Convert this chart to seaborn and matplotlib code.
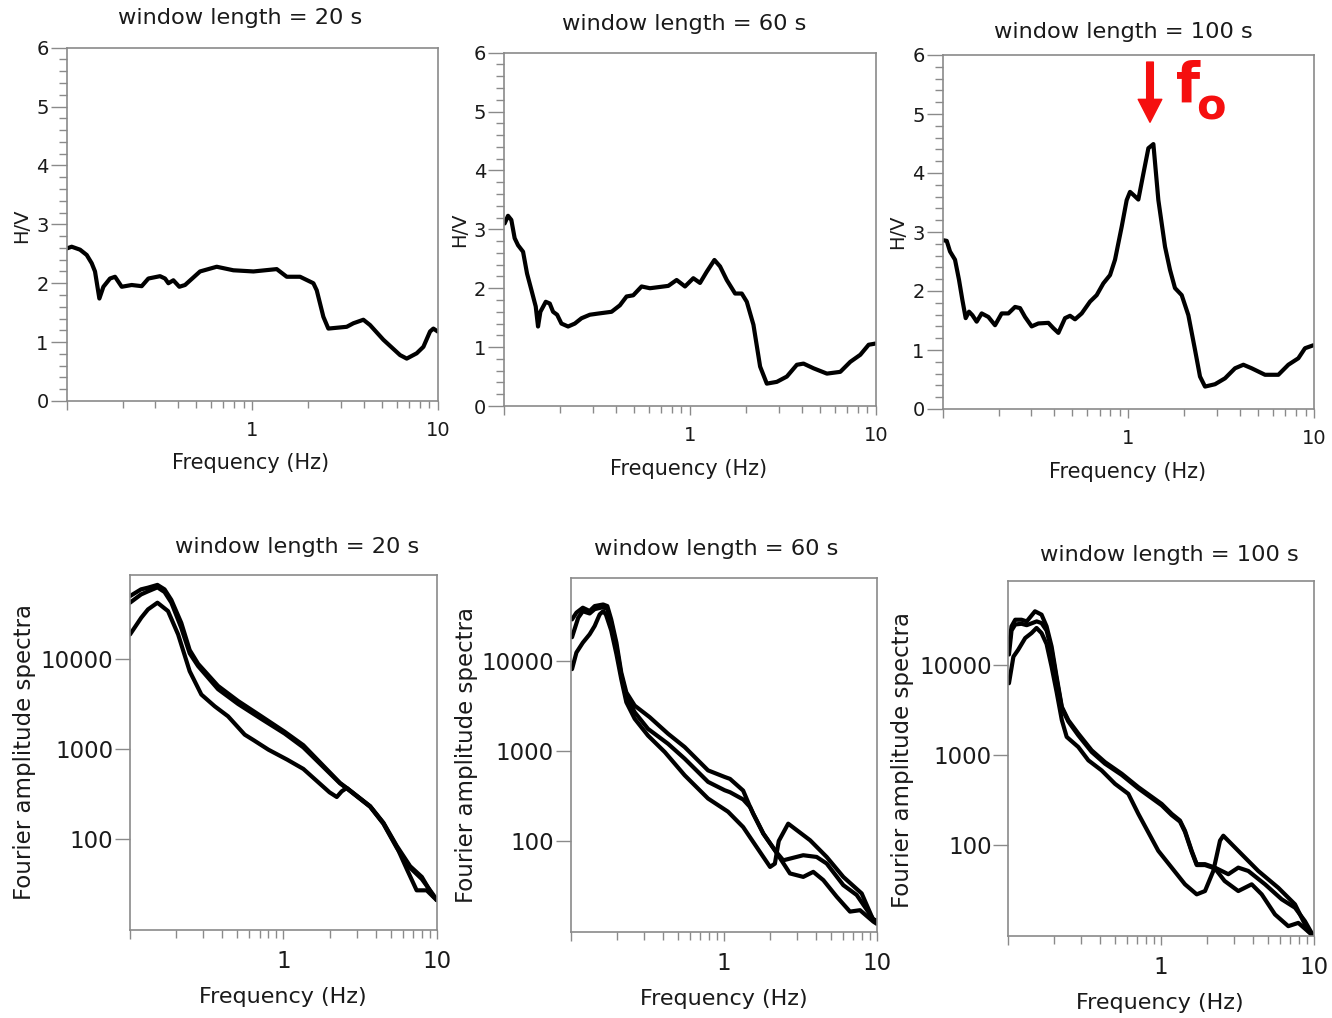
import numpy as np
import pandas as pd
import matplotlib
matplotlib.use('Agg')
import matplotlib.pyplot as plt
from matplotlib.ticker import FixedLocator, NullFormatter, LogLocator
import seaborn as sns

# ---------------- H/V curves (top row) ----------------
hv20_freq = [0.100, 0.1064, 0.118, 0.1282, 0.1364, 0.1421, 0.150, 0.1577, 0.1712, 0.1822,
             0.198, 0.2241, 0.2537, 0.2756, 0.3185, 0.3389, 0.3533, 0.3758, 0.4048, 0.4344,
             0.5234, 0.6437, 0.7915, 1.015, 1.356, 1.535, 1.811, 2.137, 2.228, 2.419,
             2.573, 3.232, 3.511, 3.975, 4.317, 5.095, 6.266, 6.808, 7.705, 8.373,
             9.094, 9.476, 10.0]
hv20_ratio = [2.59, 2.62, 2.57, 2.48, 2.34, 2.20, 1.74, 1.94, 2.08, 2.11,
              1.94, 1.97, 1.95, 2.08, 2.12, 2.08, 2.00, 2.05, 1.94, 1.97,
              2.20, 2.28, 2.22, 2.20, 2.24, 2.11, 2.11, 2.00, 1.88, 1.43,
              1.23, 1.26, 1.32, 1.38, 1.29, 1.04, 0.78, 0.72, 0.81, 0.92,
              1.18, 1.23, 1.18]

hv60_freq = [0.1008, 0.1051, 0.1095, 0.1141, 0.119, 0.1266, 0.133, 0.1404, 0.1481, 0.1524,
             0.1569, 0.1677, 0.1762, 0.1836, 0.193, 0.2036, 0.2211, 0.2403, 0.261, 0.2894,
             0.3209, 0.3786, 0.4198, 0.456, 0.4953, 0.5492, 0.609, 0.7643, 0.8475, 0.94,
             1.042, 1.132, 1.23, 1.353, 1.451, 1.576, 1.748, 1.898, 2.02, 2.193,
             2.382, 2.588, 2.93, 3.316, 3.754, 4.077, 4.616, 5.446, 6.427, 7.275,
             8.235, 9.131, 9.917]
hv60_ratio = [3.10, 3.23, 3.16, 2.85, 2.73, 2.62, 2.25, 1.97, 1.69, 1.35,
              1.60, 1.77, 1.74, 1.60, 1.55, 1.40, 1.35, 1.40, 1.49, 1.55,
              1.57, 1.60, 1.71, 1.86, 1.88, 2.03, 2.00, 2.04, 2.14, 2.03,
              2.17, 2.09, 2.28, 2.48, 2.37, 2.14, 1.91, 1.91, 1.77, 1.38,
              0.67, 0.38, 0.41, 0.50, 0.70, 0.72, 0.64, 0.55, 0.58, 0.75,
              0.87, 1.04, 1.06]

hv100_freq = [0.1008, 0.1051, 0.1095, 0.1165, 0.1224, 0.1276, 0.133, 0.1386, 0.1445, 0.1524,
              0.1622, 0.1762, 0.1914, 0.2078, 0.2258, 0.2453, 0.261, 0.2777, 0.3015, 0.3276,
              0.3708, 0.3945, 0.4198, 0.456, 0.4852, 0.5161, 0.5607, 0.6217, 0.6752, 0.7335,
              0.7968, 0.8475, 0.9208, 0.9795, 1.021, 1.064, 1.132, 1.205, 1.282, 1.364,
              1.451, 1.576, 1.676, 1.783, 1.938, 2.105, 2.287, 2.432, 2.588, 2.93,
              3.316, 3.754, 4.164, 4.616, 5.446, 6.427, 7.275, 8.235, 8.944, 9.917]
hv100_ratio = [2.86, 2.85, 2.67, 2.53, 2.19, 1.85, 1.54, 1.65, 1.59, 1.48,
               1.62, 1.56, 1.42, 1.62, 1.62, 1.73, 1.71, 1.56, 1.40, 1.45,
               1.46, 1.37, 1.29, 1.54, 1.58, 1.52, 1.62, 1.82, 1.93, 2.13,
               2.27, 2.53, 3.09, 3.54, 3.68, 3.63, 3.55, 3.99, 4.42, 4.49,
               3.54, 2.75, 2.36, 2.05, 1.93, 1.59, 1.00, 0.55, 0.38, 0.42,
               0.52, 0.69, 0.75, 0.69, 0.58, 0.58, 0.75, 0.86, 1.03, 1.08]

# ---------------- Fourier amplitude spectra (bottom row) ----------------
# window = 20 s
fas20_a_freq = [0.100, 0.118, 0.131, 0.151, 0.168, 0.186, 0.216, 0.245, 0.278, 0.375,
                0.507, 0.719, 1.02, 1.35, 2.34, 2.59, 3.68, 4.49, 5.49, 6.71,
                8.0, 9.52, 10.0]
fas20_a_amp = [49600, 58900, 61500, 66000, 58900, 45000, 25000, 12500, 8800, 5000,
               3400, 2300, 1550, 1100, 420, 369, 232, 152, 84, 50,
               38, 23, 22]
fas20_b_freq = fas20_a_freq
fas20_b_amp = [41900, 51700, 56000, 62000, 55000, 42000, 22000, 11500, 8300, 4600,
               3150, 2150, 1480, 1040, 415, 365, 228, 148, 80, 48,
               36, 24, 21]
fas20_c_freq = [0.100, 0.1185, 0.131, 0.151, 0.177, 0.206, 0.245, 0.292, 0.357, 0.436,
                0.56, 0.64, 0.80, 1.06, 1.35, 2.0, 2.23, 2.40, 2.59, 3.68,
                4.49, 5.49, 6.4, 7.4, 8.6, 10.0]
fas20_c_amp = [18600, 28600, 35300, 41900, 33800, 18600, 7280, 4010, 2970, 2300,
               1440, 1250, 980, 760, 600, 330, 293, 338, 369, 230,
               150, 82, 46, 27, 27, 21]

# window = 60 s
fas60_a_freq = [0.102, 0.109, 0.120, 0.133, 0.1435, 0.163, 0.1735, 0.184, 0.199, 0.214,
                0.231, 0.262, 0.328, 0.433, 0.556, 0.79, 1.015, 1.10, 1.34, 1.49,
                1.56, 1.815, 2.16, 2.45, 3.31, 4.05, 4.71, 6.05, 7.4, 9.5, 10.0]
fas60_a_amp = [29200, 34700, 39400, 36200, 41100, 42800, 41100, 29200, 16100, 7510,
               4510, 3210, 2390, 1560, 1110, 611, 516, 491, 364, 238,
               201, 121, 79, 61, 69.5, 66.5, 56.2, 32.3, 25.1, 13.5, 13]
fas60_b_freq = [0.102, 0.112, 0.120, 0.133, 0.1435, 0.163, 0.1735, 0.184, 0.199, 0.214,
                0.231, 0.262, 0.320, 0.4325, 0.556, 0.79, 1.015, 1.10, 1.34, 1.49,
                1.56, 1.815, 2.16, 2.71, 3.31, 3.85, 4.48, 5.48, 6.69, 7.78, 9.5, 10.0]
fas60_b_amp = [18500, 30500, 36000, 34000, 38000, 40000, 38000, 27000, 14500, 7000,
               4140, 2710, 1770, 1208, 824, 455, 367, 349, 290, 238,
               201, 121, 79, 43.6, 39.9, 45.4, 36.7, 24, 16.4, 17, 12.7, 12]
fas60_c_freq = [0.102, 0.109, 0.120, 0.133, 0.1435, 0.1547, 0.163, 0.17, 0.184, 0.199,
                0.214, 0.231, 0.262, 0.320, 0.412, 0.556, 0.79, 1.067, 1.34, 1.64,
                2.01, 2.16, 2.29, 2.64, 3.67, 4.71, 6.05, 7.98, 9.5, 10.0]
fas60_c_amp = [8170, 12500, 16100, 19950, 24700, 33200, 36000, 33000, 22000, 12000,
               6340, 3500, 2290, 1490, 977, 538, 297, 212, 143, 85.9,
               51.5, 56, 100, 156, 102, 66.5, 39.9, 26.1, 13.2, 12.5]

# window = 100 s
fas100_a_freq = [0.101, 0.105, 0.111, 0.122, 0.132, 0.1495, 0.165, 0.178, 0.192, 0.207,
                 0.224, 0.247, 0.287, 0.351, 0.429, 0.552, 0.709, 1.008, 1.172, 1.328,
                 1.432, 1.585, 1.709, 1.936, 2.25, 2.75, 3.196, 3.717, 4.78, 6.15,
                 7.51, 8.73, 9.9]
fas100_a_amp = [15950, 26700, 31600, 31600, 30300, 39200, 36000, 26700, 15950, 7380,
                3420, 2430, 1726, 1125, 833, 619, 439, 286, 222, 187,
                144, 86, 61.4, 61.4, 56.2, 47.5, 56.2, 51.6, 36.7, 25,
                20.2, 14.3, 9.8]
fas100_b_freq = [0.101, 0.105, 0.111, 0.122, 0.132, 0.1534, 0.165, 0.178, 0.192, 0.207,
                 0.224, 0.247, 0.287, 0.351, 0.429, 0.552, 0.709, 1.008, 1.172, 1.328,
                 1.432, 1.585, 1.709, 1.936, 2.25, 2.6, 3.196, 3.912, 4.549, 5.556,
                 6.79, 7.894, 9.9]
fas100_b_amp = [13000, 24000, 28000, 28500, 27500, 30300, 29000, 24000, 14500, 6900,
                3300, 2350, 1650, 1080, 800, 600, 425, 276, 215, 182,
                140, 84, 60, 60, 55, 40, 30.9, 36.7, 28.4, 17.0,
                12.6, 13.7, 9.8]
fas100_c_freq = [0.101, 0.108, 0.116, 0.129, 0.142, 0.153, 0.165, 0.178, 0.192, 0.207,
                 0.224, 0.241, 0.287, 0.334, 0.408, 0.499, 0.61, 0.709, 0.958, 1.172,
                 1.432, 1.709, 1.936, 2.194, 2.427, 2.551, 3.196, 4.321, 5.84, 7.51,
                 9.18, 9.9]
fas100_c_amp = [6240, 12300, 14650, 19800, 22500, 25600, 22500, 17000, 9500, 5000,
                2430, 1585, 1224, 871, 673, 478, 370, 222, 86.3, 56.2,
                36.7, 28.4, 30.9, 51.6, 112, 127, 86.3, 51.6, 33.6, 22,
                11.1, 9.8]

titles = ['window length = 20 s', 'window length = 60 s', 'window length = 100 s']

sns.set_style('white')
plt.rcParams['font.family'] = ['DejaVu Sans']

W, H = 1332, 1018
fig = plt.figure(figsize=(W / 100, H / 100), dpi=100)


def add_ax(l, t, r, b):
    return fig.add_axes([l / W, 1 - b / H, (r - l) / W, (b - t) / H])


def ftext(x, y, s, **kw):
    fig.text(x / W, 1 - y / H, s, **kw)


SPINE = '#8a8a8a'
TXT = '#1a1a1a'


def style_axes(ax, top_row):
    ax.set_xscale('log')
    ax.set_xlim(0.1, 10)
    ax.xaxis.set_major_locator(FixedLocator([0.1, 1, 10]))
    ax.set_xticklabels(['', '1', '10'])
    ax.xaxis.set_minor_locator(LogLocator(base=10, subs=np.arange(2, 10)))
    ax.xaxis.set_minor_formatter(NullFormatter())
    for sp in ax.spines.values():
        sp.set_color(SPINE)
        sp.set_linewidth(1.2)
        sp.set_visible(True)
    ax.set_xlabel('')
    ax.set_ylabel('')
    if top_row:
        ax.tick_params(axis='x', which='major', bottom=True, length=6.5, width=1,
                       color=SPINE, labelsize=14, pad=8, labelcolor=TXT)
        ax.tick_params(axis='x', which='minor', bottom=True, length=5, width=1, color=SPINE)
        ax.tick_params(axis='y', which='major', left=True, length=11.5, width=1,
                       color=SPINE, labelsize=14, pad=1.5, labelcolor=TXT)
        ax.tick_params(axis='y', which='minor', left=True, length=6, width=1, color=SPINE)
    else:
        ax.tick_params(axis='x', which='major', bottom=True, length=6.5, width=1,
                       color=SPINE, labelsize=16.5, pad=8, labelcolor=TXT)
        ax.tick_params(axis='x', which='minor', bottom=True, length=5.5, width=1, color=SPINE)
        ax.tick_params(axis='y', which='major', left=True, length=11, width=1,
                       color=SPINE, labelsize=16.5, pad=1, labelcolor=TXT)
        ax.tick_params(axis='y', which='minor', left=False)


LW = 3.0

# ---------------- top row ----------------
top_boxes = [(66.7, 47.7, 437.7, 401), (504, 52.7, 876, 406), (942.7, 55, 1314, 409)]
hv_sets = [(hv20_freq, hv20_ratio), (hv60_freq, hv60_ratio), (hv100_freq, hv100_ratio)]
top_axes = []
for box, (fr, hv) in zip(top_boxes, hv_sets):
    ax = add_ax(*box)
    df = pd.DataFrame({'freq': fr, 'hv': hv})
    sns.lineplot(data=df, x='freq', y='hv', ax=ax, color='black', lw=LW,
                 estimator=None, sort=False, solid_joinstyle='round', solid_capstyle='round')
    style_axes(ax, True)
    ax.set_ylim(0, 6)
    ax.set_yticks(range(7))
    ax.set_yticks(np.arange(0, 6.01, 0.2), minor=True)
    ax.yaxis.set_minor_formatter(NullFormatter())
    top_axes.append(ax)

# ---------------- bottom row ----------------
bot_boxes = [(130, 575, 436.7, 930), (570.7, 577.7, 876.7, 931.7), (1008.3, 581, 1314, 936)]
fas_sets = [
    [(fas20_a_freq, fas20_a_amp), (fas20_b_freq, fas20_b_amp), (fas20_c_freq, fas20_c_amp)],
    [(fas60_a_freq, fas60_a_amp), (fas60_b_freq, fas60_b_amp), (fas60_c_freq, fas60_c_amp)],
    [(fas100_a_freq, fas100_a_amp), (fas100_b_freq, fas100_b_amp), (fas100_c_freq, fas100_c_amp)],
]
for box, curves in zip(bot_boxes, fas_sets):
    ax = add_ax(*box)
    frames = []
    for k, (fr, amp) in enumerate(curves):
        frames.append(pd.DataFrame({'freq': fr, 'amp': amp, 'curve': k}))
    df = pd.concat(frames, ignore_index=True)
    sns.lineplot(data=df, x='freq', y='amp', units='curve', ax=ax, color='black', lw=LW,
                 estimator=None, sort=False, solid_joinstyle='round', solid_capstyle='round')
    ax.set_yscale('log')
    ax.set_ylim(9.8, 85000)
    style_axes(ax, False)
    ax.yaxis.set_major_locator(FixedLocator([100, 1000, 10000]))
    ax.set_yticklabels(['100', '1000', '10000'])
    ax.yaxis.set_minor_locator(FixedLocator([]))

# ---------------- texts ----------------
title_pos = [(240, 18), (684, 24), (1123, 32), (297, 547), (716, 549), (1169, 555)]
for i, (x, y) in enumerate(title_pos):
    ftext(x, y, titles[i % 3], ha='center', va='center', fontsize=16.2, color=TXT)

xlab_pos = [(251, 463, 15), (689, 469, 15), (1128, 472, 15),
            (283, 997, 16), (724, 999, 16), (1160, 1003, 16)]
for x, y, fs in xlab_pos:
    ftext(x, y, 'Frequency (Hz)', ha='center', va='center', fontsize=fs, color=TXT)

for x, y in [(22, 226), (460, 230), (898, 232)]:
    ftext(x, y, 'H/V', ha='center', va='center', rotation=90, fontsize=14, color=TXT)
for x, y in [(25, 752), (466, 755), (903, 760)]:
    ftext(x, y, 'Fourier amplitude spectra', ha='center', va='center', rotation=90,
          fontsize=16.5, color=TXT)

# f0 marker on the 100 s H/V panel
ax = top_axes[2]
ax.annotate('', xy=(1.308, 4.86), xytext=(1.308, 5.88),
            arrowprops=dict(facecolor='#f50f0f', edgecolor='#f50f0f', width=4.8,
                            headwidth=17, headlength=16.5, shrink=0))
ftext(1176, 102, 'f', ha='left', va='baseline', fontsize=40, fontweight='bold', color='#f50f0f')
ftext(1196, 119, 'o', ha='left', va='baseline', fontsize=31, fontweight='bold', color='#f50f0f')

fig.savefig('out.png', dpi=100)
